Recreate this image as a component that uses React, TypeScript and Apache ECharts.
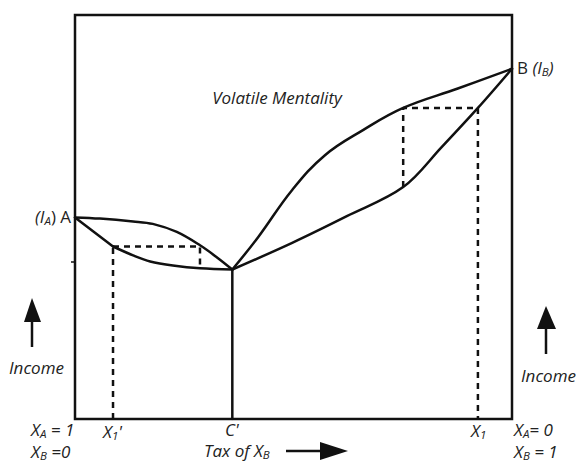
import React, { useEffect, useRef } from "react";
import * as echarts from "echarts";

// Curves in data units (x: 0..100 across the box, y: 0..100 up the box)
const upperLeft = [
  [0, 49.9], [5.7, 49.6], [13.3, 48.9], [17.8, 48.3], [23.3, 46.3],
  [28.6, 43.0], [32.5, 40.0], [36, 37],
];
const lowerLeftStraight = [[0, 49.9], [8.7, 42.7]];
const lowerLeftCurve = [
  [8.7, 42.7], [13.3, 40.5], [17.2, 39.0], [22.4, 38.0], [28.6, 37.3], [36, 37],
];
const upperRight = [
  [36, 37], [41.9, 45.0], [49.7, 56.7], [57.2, 65.3], [65.9, 71.5],
  [75.1, 77.0], [87.6, 81.8], [100, 86.7],
];
const lowerRight = [
  [36, 37], [49.7, 43.6], [62.2, 50.2], [75.1, 57.4], [83.9, 67.3],
  [92.2, 77.0], [100, 86.7],
];
const dashLeftBox = [[8.7, 42.7], [28.6, 42.7], [28.6, 37.3]];
const dashLeftDrop = [[8.7, 0], [8.7, 42.7]];
const dashRightBox = [[75.1, 57.4], [75.1, 77.0], [92.2, 77.0]];
const dashRightDrop = [[92.2, 77.0], [92.2, 0]];
const solidDrop = [[36, 0], [36, 37]];

const INK = "#111";
const TXT = "#222";
const FONT = "'Open Sans', 'Noto Sans', sans-serif";

const rich = {
  i: { fontFamily: FONT, fontStyle: "italic", fontSize: 17, lineHeight: 18, fill: TXT },
  n: { fontFamily: FONT, fontSize: 17, lineHeight: 18, fill: TXT },
  s: { fontFamily: FONT, fontStyle: "italic", fontSize: 11.5, lineHeight: 9, height: 9, fill: TXT, verticalAlign: "bottom" },
};

function label(x: number, y: number, text: string, align: string = "left") {
  return {
    type: "text",
    x,
    y,
    style: { text, rich, align, verticalAlign: "middle", fill: TXT },
  };
}

function solid(data: number[][], smooth: number | boolean) {
  return {
    type: "line",
    data,
    smooth,
    symbol: "none",
    silent: true,
    lineStyle: { color: INK, width: 2.5, cap: "round", join: "round" },
  };
}

function dashed(data: number[][]) {
  return {
    type: "line",
    data,
    symbol: "none",
    silent: true,
    lineStyle: { color: INK, width: 2.5, type: [6, 5] },
  };
}

export default function App() {
  const ref = useRef<HTMLDivElement>(null);
  useEffect(() => {
    const chart = echarts.init(ref.current!, null, { renderer: "svg" });
    const option = {
      animation: false,
      backgroundColor: "#fff",
      grid: {
        left: 75, right: 64, top: 15, bottom: 44,
        show: true, borderColor: INK, borderWidth: 2.5, backgroundColor: "transparent",
      },
      xAxis: { type: "value", min: 0, max: 100, show: false },
      yAxis: { type: "value", min: 0, max: 100, show: false },
      series: [
        solid(upperLeft, 0.35),
        solid(lowerLeftStraight, false),
        solid(lowerLeftCurve, 0.35),
        solid(upperRight, 0.4),
        solid(lowerRight, 0.35),
        solid(solidDrop, false),
        dashed(dashLeftBox),
        dashed(dashLeftDrop),
        dashed(dashRightBox),
        dashed(dashRightDrop),
      ],
      graphic: [
        label(277, 97, "{i|Volatile Mentality}", "center"),
        label(35, 216, "{i|(I}{s|A}{n|) A}"),
        label(517, 67, "{n|B }{i|(I}{s|B}{i|)}"),
        label(9, 367, "{i|Income}"),
        label(521, 375, "{i|Income}"),
        label(31, 429, "{i|X}{s|A}{i| = 1}"),
        label(31, 451, "{i|X}{s|B}{i| =0}"),
        label(103, 431, "{i|X}{s|1}{i|'}"),
        label(225, 429, "{i|C'}"),
        label(204, 450, "{i|Tax of X}{s|B}"),
        label(471, 430, "{i|X}{s|1}"),
        label(514, 429, "{i|X}{s|A}{i|= 0}"),
        label(514, 451, "{i|X}{s|B}{i| = 1}"),
        // small tick on the left edge
        { type: "line", shape: { x1: 71, y1: 262, x2: 75, y2: 262 }, style: { stroke: INK, lineWidth: 1.5 } },
        // left income arrow
        { type: "line", shape: { x1: 32, y1: 316, x2: 32, y2: 347 }, style: { stroke: INK, lineWidth: 2.5 } },
        { type: "polygon", shape: { points: [[32, 298], [24, 322], [41, 322]] }, style: { fill: INK } },
        // right income arrow
        { type: "line", shape: { x1: 546, y1: 325, x2: 546, y2: 354 }, style: { stroke: INK, lineWidth: 2.5 } },
        { type: "polygon", shape: { points: [[546, 306], [537, 329], [556, 329]] }, style: { fill: INK } },
        // tax arrow
        { type: "line", shape: { x1: 286, y1: 451, x2: 325, y2: 451 }, style: { stroke: INK, lineWidth: 2.5 } },
        { type: "polygon", shape: { points: [[348, 451], [320, 442], [320, 460]] }, style: { fill: INK } },
      ],
    };
    chart.setOption(option as any);
    return () => chart.dispose();
  }, []);
  return (
    <div
      ref={ref}
      style={{ position: "fixed", left: 0, top: 0, width: 576, height: 463, background: "#fff" }}
    />
  );
}
